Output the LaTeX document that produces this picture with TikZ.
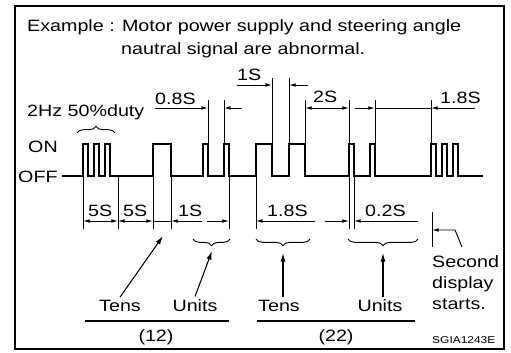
\documentclass[tikz,border=0pt]{standalone}
\usepackage{fontspec}
\setmainfont{Liberation Sans}[FakeStretch=1.2]
\usetikzlibrary{arrows.meta,calc,decorations.pathreplacing}
\tikzset{
  sig/.style={line width=1.8pt, line join=miter},
  ext/.style={line width=0.8pt},
  dim/.style={-{Latex[length=2mm, width=1.1mm]}, line width=0.8pt},
  dimb/.style={{Latex[length=2mm, width=1.1mm]}-{Latex[length=2mm, width=1.1mm]}, line width=0.8pt},
  ptr/.style={-{Latex[length=2.6mm, width=1.5mm]}, line width=0.9pt},
  txt/.style={inner sep=0pt, anchor=base west, font=\fontsize{14}{18}\selectfont},
  tag/.style={inner sep=2pt, anchor=base, font=\fontsize{14}{18}\selectfont},
  brc/.style={decorate, decoration={brace, amplitude=2mm}, line width=0.8pt}
}

\begin{document}
\begin{tikzpicture}[x=0.03cm, y=-0.03cm]
\useasboundingbox (0,0) rectangle (511,352);
\fill[white] (0,0) rectangle (511,352);
\draw[line width=2.2pt] (15,6) rectangle (504,349);

% title
\node[txt] (ttl1) at (27,31) {Example : Motor power supply and steering angle};
\node[txt] (ttl2) at ($(ttl1.base west)+(94,23)$) {nautral signal are abnormal.};

% levels and signal
\node[txt] (on) at (28,152) {ON};
\node[txt] (off) at (18,182) {OFF};
\draw[sig] (62,176) -- (83,176) |- (88.4,144) |- (93.8,176) |- (99.2,144) |- (104.6,176) |- (110,144)
  |- (153,176) |- (171,144) |- (203,176) |- (208,144) |- (224,176) |- (229,144)
  |- (256,176) |- (272,144) |- (289,176) |- (305,144) |- (349,176) |- (354,144) |- (370,176) |- (375,144)
  |- (431,176) |- (436.4,144) |- (441.8,176) |- (447.2,144) |- (452.6,176) |- (458,144) |- (483,176);

% extension lines
\draw[ext] (208,100) -- (208,144) (224,100) -- (224,144) (272,78) -- (272,144) (289,78) -- (289,144)
  (305,100) -- (305,144) (349,100) -- (349,144) (375,100) -- (375,144) (431,100) -- (431,144);
\draw[ext] (83,176) -- (83,229) (118,176) -- (118,229) (153,176) -- (153,229) (171,176) -- (171,229)
  (229,176) -- (229,229) (256,176) -- (256,229) (349,176) -- (349,229) (354,176) -- (354,229);

% upper dimensions
\node[txt] (hz) at (27,116) {2Hz 50\%duty};
\draw[brc] (77,133) -- (115,133);
\coordinate (u1) at (155,108); \coordinate (u2) at (208,108);
\coordinate (u3) at (224,108); \coordinate (u4) at (242,108);
\coordinate (v1) at (237,85);  \coordinate (v2) at (272,85);
\coordinate (v3) at (289,85);  \coordinate (v4) at (308,85);
\coordinate (w1) at (305,108); \coordinate (w2) at (349,108);
\coordinate (w3) at (355,108); \coordinate (w4) at (375,108);
\coordinate (w5) at (431,108); \coordinate (w6) at (475,108);
\draw[dim] (u1) -- (u2);
\draw[dim] (u4) -- (u3);
\draw[dim] (v1) -- (v2);
\draw[dim] (v4) -- (v3);
\draw[dimb] (w1) -- (w2);
\draw[dim] (w3) -- (w4);
\draw[ext] (w4) -- (w5);
\draw[dim] (w6) -- (w5);
\node[txt] (l08) at (155,104) {0.8S};
\node[txt] (l1a) at (237,80) {1S};
\node[txt] (l2) at (313,102) {2S};
\node[txt] (l18a) at (440,103) {1.8S};

% lower dimensions
\coordinate (b1) at (83,221);  \coordinate (b2) at (118,221);
\coordinate (b3) at (153,221); \coordinate (b4) at (171,221);
\coordinate (b5) at (202,221); \coordinate (b6) at (207,221);
\coordinate (b7) at (229,221);
\coordinate (c1) at (256,221); \coordinate (c2) at (315,221);
\coordinate (c3) at (325,221); \coordinate (c4) at (349,221);
\coordinate (c5) at (354,221); \coordinate (c6) at (418,221);
\draw[dimb] (b1) -- (b2);
\draw[dimb] (b2) -- (b3);
\draw[ext] (b3) -- (b4);
\draw[dim] (b5) -- (b4);
\draw[dim] (b6) -- (b7);
\draw[dim] (c2) -- (c1);
\draw[dim] (c3) -- (c4);
\draw[dim] (c6) -- (c5);
\node[txt] (l5a) at (88,216) {5S};
\node[txt] (l5b) at (123,216) {5S};
\node[txt] (l1b) at (178,216) {1S};
\node[txt] (l18b) at (267,216) {1.8S};
\node[txt] (l02) at (365,216) {0.2S};

% digits
\draw[brc] (230,239) -- (193,239);
\draw[brc] (310,239) -- (256,239);
\draw[brc] (418,239) -- (348,239);
\coordinate (k1) at (163,236); \coordinate (k2) at (212,251);
\coordinate (k3) at (283,253); \coordinate (k4) at (383,253);
\node[tag] (tens1) at (120,311) {Tens};
\node[tag] (units1) at (195,311) {Units};
\node[tag] (tens2) at (279,311) {Tens};
\node[tag] (units2) at (380,311) {Units};
\draw[ptr] (tens1.north) -- (k1);
\draw[ptr] (units1.north) -- (k2);
\draw[ptr] (tens2.north -| k3) -- (k3);
\draw[ptr] (units2.north -| k4) -- (k4);
\draw[line width=1pt] (85,321) -- (229,321) (257,321) -- (415,321);
\node[tag] (n12) at (156,341) {(12)};
\node[tag] (n22) at (336,341) {(22)};

% second display
\draw[ext] (432,212) -- (432,247);
\coordinate (s1) at (432,230); \coordinate (s2) at (455,230);
\node[txt, align=left, anchor=north west] (sec) at (432,255) {Second\\display\\starts.};
\draw[dim] ($(sec.north west)+(30,-8)$) -- (s2) -- (s1);
\node[txt, font=\fontsize{8.5}{10}\selectfont] (code) at (432,343) {SGIA1243E};
\end{tikzpicture}
\end{document}
